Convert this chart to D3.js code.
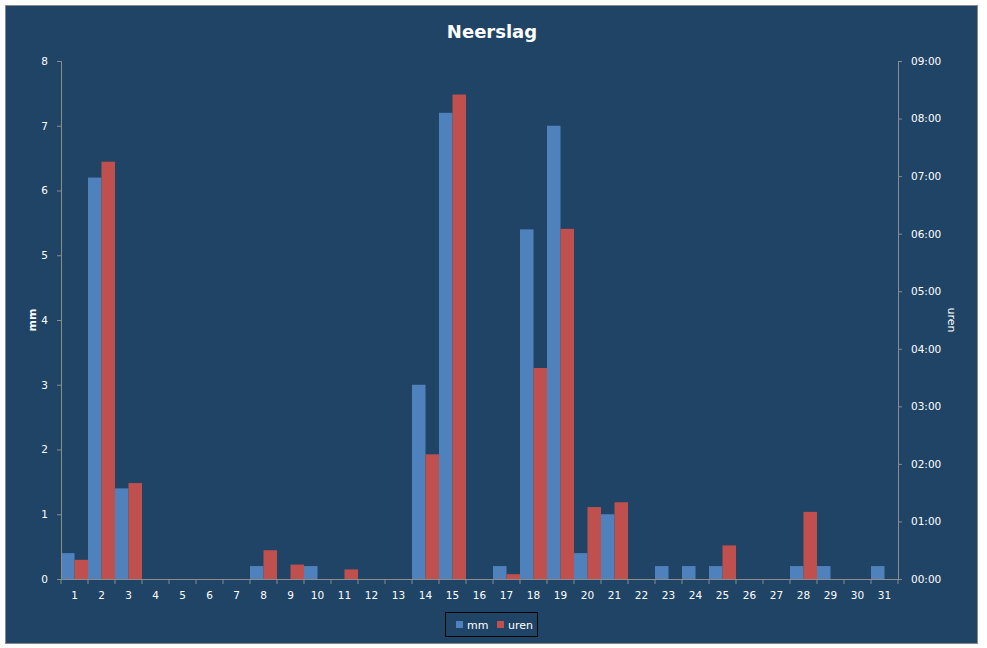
<!DOCTYPE html>
<html><head><meta charset="utf-8">
<script src="https://cdn.jsdelivr.net/npm/d3@7"></script>
<style>body{margin:0;background:#fff}svg{display:block}</style>
</head><body>
<script>
const days = d3.range(1, 32).map(String);
const mm = [0.4,6.2,1.4,0,0,0,0,0.2,0,0.2,0,0,0,3.0,7.2,0,0.2,5.4,7.0,0.4,1.0,0,0.2,0.2,0.2,0,0,0.2,0.2,0,0.2];
// uren in minutes
const urenMin = [20,435,100,0,0,0,0,30,15,0,10,0,0,130,505,0,5,220,365,75,80,0,0,0,35,0,0,70,0,0,0];
const leftTicks = [0,1,2,3,4,5,6,7,8];
const rightTicks = [0,60,120,180,240,300,360,420,480,540];
const seriesNames = ["mm","uren"];
const colors = ["#4F81BD","#C0504D"];

const W = 987, H = 648;
const svg = d3.select("body").append("svg").attr("width", W).attr("height", H);
svg.append("rect").attr("x",5.5).attr("y",5.5).attr("width",972).attr("height",638)
  .attr("fill","#1F4466").attr("stroke","#8a8a8a").attr("stroke-width",1);

const L = 61, R = 898, T = 61, B = 579;
const x = d3.scaleBand().domain(days).range([L, R]).padding(0);
const xs = d3.scaleBand().domain(seriesNames).range([0, x.bandwidth()]).padding(0);
const yL = d3.scaleLinear().domain([0, 8]).range([B, T]);
const yR = d3.scaleLinear().domain([0, 540]).range([B, T]);
const font = "Tahoma, 'DejaVu Sans', sans-serif";

// bars
const g = svg.append("g");
g.selectAll(".mm").data(mm).join("rect")
  .attr("x", (d,i) => x(days[i]) + xs("mm")).attr("width", xs.bandwidth())
  .attr("y", d => yL(d)).attr("height", d => B - yL(d)).attr("fill", colors[0]);
g.selectAll(".ur").data(urenMin).join("rect")
  .attr("x", (d,i) => x(days[i]) + xs("uren")).attr("width", xs.bandwidth())
  .attr("y", d => yR(d)).attr("height", d => B - yR(d)).attr("fill", colors[1]);

const axisColor = "#8c8c8c";
function style(sel){
  sel.select(".domain").attr("stroke", axisColor);
  sel.selectAll(".tick line").attr("stroke", axisColor);
  sel.selectAll("text").attr("fill","#fff").style("font-family", font).style("font-size","10.5px");
}
// left axis
const ax = svg.append("g").attr("transform",`translate(${L},0)`)
  .call(d3.axisLeft(yL).tickValues(leftTicks).tickSize(4).tickSizeOuter(4).tickPadding(9).tickFormat(d3.format("d")));
style(ax);
// right axis
const fmt = m => String(Math.floor(m/60)).padStart(2,"0") + ":" + String(m%60).padStart(2,"0");
const ar = svg.append("g").attr("transform",`translate(${R},0)`)
  .call(d3.axisRight(yR).tickValues(rightTicks).tickSize(4).tickSizeOuter(4).tickPadding(9).tickFormat(fmt));
style(ar);
// bottom axis
const ab = svg.append("g").attr("transform",`translate(0,${B})`)
  .call(d3.axisBottom(x).tickSize(0).tickPadding(13));
style(ab);
ab.selectAll(".tick line").remove();
// category boundary ticks
ab.selectAll(".bt").data(d3.range(0, 32)).join("line")
  .attr("x1", i => L + i * x.bandwidth()).attr("x2", i => L + i * x.bandwidth())
  .attr("y1", 0).attr("y2", 5).attr("stroke", axisColor);

// title
svg.append("text").attr("x", 492).attr("y", 38).attr("text-anchor","middle")
  .attr("fill","#fff").style("font-family", font).style("font-size","18px").style("font-weight","bold")
  .text("Neerslag");
// axis titles
svg.append("text").attr("transform","translate(36,320) rotate(-90)").attr("text-anchor","middle")
  .attr("fill","#fff").style("font-family", font).style("font-size","11px").style("font-weight","bold").text("mm");
svg.append("text").attr("transform","translate(948,320) rotate(90)").attr("text-anchor","middle")
  .attr("fill","#fff").style("font-family", font).style("font-size","11px").text("uren");

// legend
const lg = svg.append("g");
lg.append("rect").attr("x",445.5).attr("y",612.5).attr("width",92).attr("height",24)
  .attr("fill","none").attr("stroke","#000").attr("stroke-width",1);
const items = [{n:"mm",c:colors[0],x:456},{n:"uren",c:colors[1],x:497}];
items.forEach(it => {
  lg.append("rect").attr("x", it.x).attr("y", 621).attr("width",7).attr("height",7).attr("fill", it.c);
  lg.append("text").attr("x", it.x + 11).attr("y", 629).attr("fill","#fff")
    .style("font-family", font).style("font-size","11px").text(it.n);
});
</script>
</body></html>
